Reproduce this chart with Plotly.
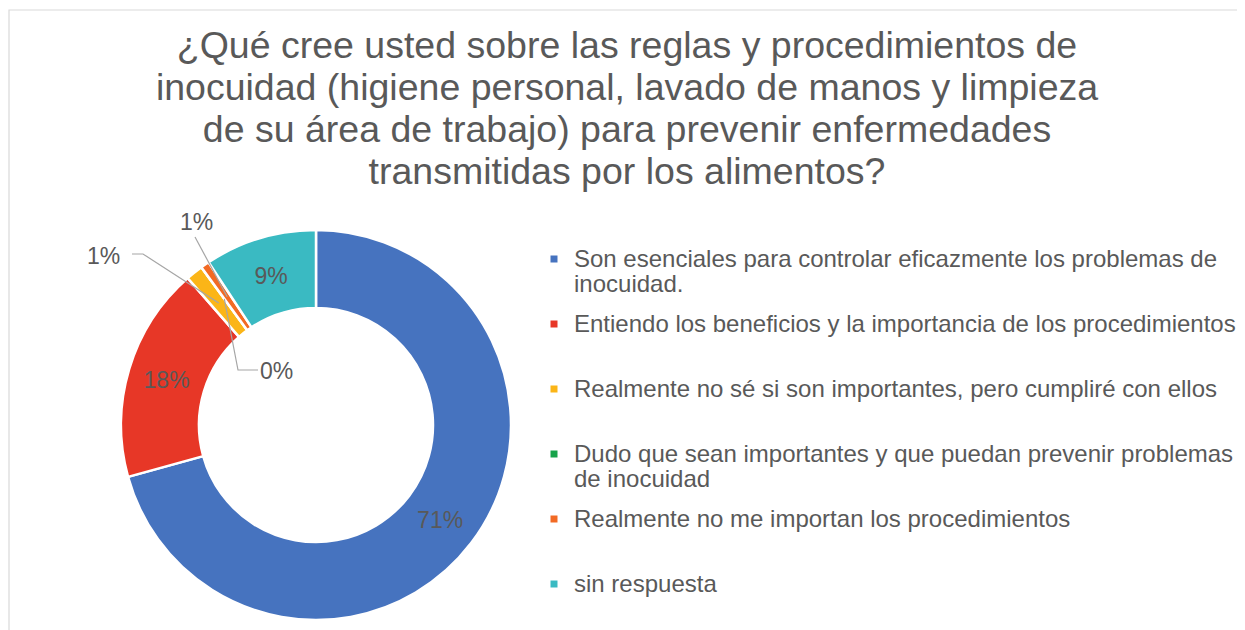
import math
import plotly.graph_objects as go

# ---- data ----
categories = [
    "Son esenciales para controlar eficazmente los problemas de<br>inocuidad.",
    "Entiendo los beneficios y la importancia de los procedimientos",
    "Realmente no sé si son importantes, pero cumpliré con ellos",
    "Dudo que sean importantes y que puedan prevenir problemas<br>de inocuidad",
    "Realmente no me importan los procedimientos",
    "sin respuesta",
]
counts = [99, 25, 2, 0, 1, 13]
colors = ["#4673BF", "#E73727", "#FBB517", "#17A34A", "#F26A24", "#3ABAC2"]
inside_label = [True, True, False, False, False, True]
title_lines = [
    "¿Qué cree usted sobre las reglas y procedimientos de",
    "inocuidad (higiene personal, lavado de manos y limpieza",
    "de su área de trabajo) para prevenir enfermedades",
    "transmitidas por los alimentos?",
]

# ---- layout constants (screen pixels; page body has an 8px margin) ----
OFF = 8
W, H = 1245 - OFF, 630 - OFF
CX, CY, R = 316, 425, 195
HOLE = 0.6
TXT = "#595959"
FONT = "Liberation Sans, Arial, sans-serif"


def px(x, y):
    return (x - OFF) / W, 1 - (y - OFF) / H


def big(text, size):
    return f"<span style='font-size:{size}px'>{text}</span>"


fig = go.Figure()

fig.add_trace(go.Pie(
    labels=[c.replace("<br>", " ") for c in categories],
    values=counts,
    marker=dict(colors=colors, line=dict(color="white", width=2.5)),
    hole=HOLE,
    sort=False,
    direction="clockwise",
    rotation=0,
    texttemplate="%{percent:.0%}",
    textposition=["inside" if f else "none" for f in inside_label],
    insidetextorientation="horizontal",
    textfont=dict(size=23, color=TXT, family=FONT),
    showlegend=False,
    hoverinfo="label+percent",
    domain=dict(x=[px(CX - R, 0)[0], px(CX + R, 0)[0]],
                y=[px(0, CY + R)[1], px(0, CY - R)[1]]),
))

# legend entries (one per category)
for i, (cat, col) in enumerate(zip(categories, colors)):
    lines = cat.split("<br>")
    if len(lines) == 1:
        lines.append("&nbsp;")
    name = "<br>".join(big(l, 24) for l in lines)
    fig.add_trace(go.Scatter(
        x=[None], y=[None], mode="markers", name=name,
        marker=dict(symbol="square", size=7, color=col),
        legendgroup=f"g{i}", showlegend=True,
    ))

# leader lines + outside labels for the small slices
total = sum(counts)
cum = 0
mids = []
for v in counts:
    mids.append((cum + v / 2) / total * 2 * math.pi)
    cum += v
rmid = R * (1 + HOLE) / 2


def anchor(i):
    a = mids[i]
    return CX + rmid * math.sin(a), CY - rmid * math.cos(a)


label_specs = {
    2: ((103, 256), [(132, 254), (143, 254)]),
    4: ((196, 222), [(195, 237)]),
    3: ((276, 371), [(258, 370), (238, 370)]),
}
shapes = []
annotations = []
for i, ((tx, ty), pts) in label_specs.items():
    pct = counts[i] / total * 100
    ax, ay = px(tx, ty)
    annotations.append(dict(
        x=ax, y=ay, xref="paper", yref="paper",
        text=f"{pct:.0f}%", showarrow=False, xanchor="center", yanchor="middle",
        font=dict(size=23, color=TXT, family=FONT),
    ))
    path_pts = pts + [anchor(i)]
    d = "M " + " L ".join(f"{px(x, y)[0]},{px(x, y)[1]}" for x, y in path_pts)
    shapes.append(dict(type="path", path=d, xref="paper", yref="paper",
                       line=dict(color="#A6A6A6", width=1.2)))

# chart border
shapes.append(dict(type="rect", xref="paper", yref="paper",
                   x0=px(9, 0)[0], x1=px(1270, 0)[0], y0=px(0, 10)[1], y1=px(0, 660)[1],
                   line=dict(color="#D9D9D9", width=1.2), layer="below"))

fig.update_layout(
    width=W, height=H,
    margin=dict(l=0, r=0, t=0, b=0),
    paper_bgcolor="white", plot_bgcolor="white",
    title=dict(
        text="<br>".join(big(l, 37.5) for l in title_lines),
        x=px(627, 0)[0], xanchor="center", xref="paper",
        y=1 - 50 / H, yanchor="top", yref="container",
        font=dict(size=42 / 1.3, color=TXT, family=FONT),
    ),
    xaxis=dict(visible=False), yaxis=dict(visible=False),
    legend=dict(
        x=px(534, 0)[0], xanchor="left", y=px(0, 240)[1], yanchor="top",
        font=dict(size=25 / 1.3, color=TXT, family=FONT),
        valign="top", tracegroupgap=12, traceorder="grouped",
        itemclick=False, itemdoubleclick=False,
    ),
    shapes=shapes,
    annotations=annotations,
)

fig.write_html("out.html")
